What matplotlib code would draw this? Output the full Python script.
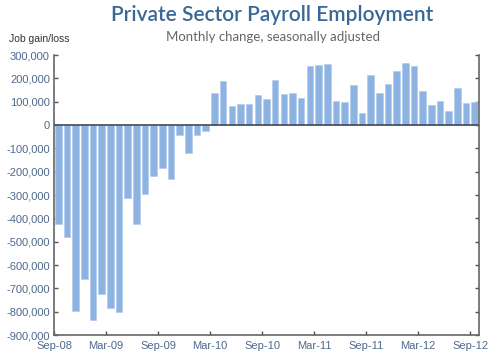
import numpy as np
import matplotlib.pyplot as plt
from matplotlib.ticker import FuncFormatter

plt.rcParams['font.family'] = ['Liberation Sans', 'DejaVu Sans']

# monthly change in private payrolls, Sep-08 .. Sep-12
months = ['Sep-08', 'Oct-08', 'Nov-08', 'Dec-08', 'Jan-09', 'Feb-09', 'Mar-09',
          'Apr-09', 'May-09', 'Jun-09', 'Jul-09', 'Aug-09', 'Sep-09', 'Oct-09',
          'Nov-09', 'Dec-09', 'Jan-10', 'Feb-10', 'Mar-10', 'Apr-10', 'May-10',
          'Jun-10', 'Jul-10', 'Aug-10', 'Sep-10', 'Oct-10', 'Nov-10', 'Dec-10',
          'Jan-11', 'Feb-11', 'Mar-11', 'Apr-11', 'May-11', 'Jun-11', 'Jul-11',
          'Aug-11', 'Sep-11', 'Oct-11', 'Nov-11', 'Dec-11', 'Jan-12', 'Feb-12',
          'Mar-12', 'Apr-12', 'May-12', 'Jun-12', 'Jul-12', 'Aug-12', 'Sep-12']
job_change = [-423000, -480000, -796000, -658000, -837000, -725000, -785000,
              -800000, -313000, -425000, -297000, -220000, -185000, -233000,
              -43000, -121000, -41000, -27000, 138000, 191000, 81000,
              91000, 91000, 127000, 112000, 193000, 132000, 138000,
              117000, 255000, 257000, 261000, 105000, 101000, 172000,
              50000, 213000, 136000, 176000, 232000, 266000, 252000,
              145000, 84000, 102000, 61000, 161000, 95000, 101000]
tick_labels = ['Sep-08', 'Mar-09', 'Sep-09', 'Mar-10', 'Sep-10', 'Mar-11',
               'Sep-11', 'Mar-12', 'Sep-12']

label_col = '#4d6a8c'
fig = plt.figure(figsize=(5, 3.6), dpi=100)
ax = fig.add_axes([0.108, 0.069, 0.85, 0.778])

x = np.arange(len(months))
ax.bar(x, job_change, width=0.76, color='#8db3e2', edgecolor='#b3cdee', linewidth=0.5, zorder=2)
ax.axhline(0, color='#404a55', linewidth=1.2, zorder=3)

ax.set_xlim(-0.5, len(months) - 0.5)
ax.set_ylim(-900000, 300000)
ax.set_yticks(np.arange(-900000, 300001, 100000))
ax.yaxis.set_major_formatter(FuncFormatter(lambda v, p: f'{int(v):,}'))
ax.set_xticks([months.index(m) - 0.5 for m in tick_labels])
ax.set_xticklabels(tick_labels)
ax.tick_params(axis='both', direction='in', length=3, width=1, color='#555555',
               labelsize=8, labelcolor=label_col)
ax.tick_params(axis='y', right=True, pad=3)
ax.tick_params(axis='x', pad=4)

for side in ['left', 'right', 'bottom']:
    ax.spines[side].set_color('#666666')
    ax.spines[side].set_linewidth(1.2)
ax.spines['top'].set_visible(False)

fig.text(0.545, 0.958, 'Private Sector Payroll Employment', ha='center', va='center',
         fontsize=15, color='#3a6796', family='Lato', weight='semibold')
fig.text(0.545, 0.897, 'Monthly change, seasonally adjusted', ha='center', va='center',
         fontsize=9.5, color='#666666', family='Lato')
fig.text(0.018, 0.893, 'Job gain/loss', ha='left', va='center', fontsize=7.5,
         color='#333333')

fig.savefig('out.png', dpi=100)
